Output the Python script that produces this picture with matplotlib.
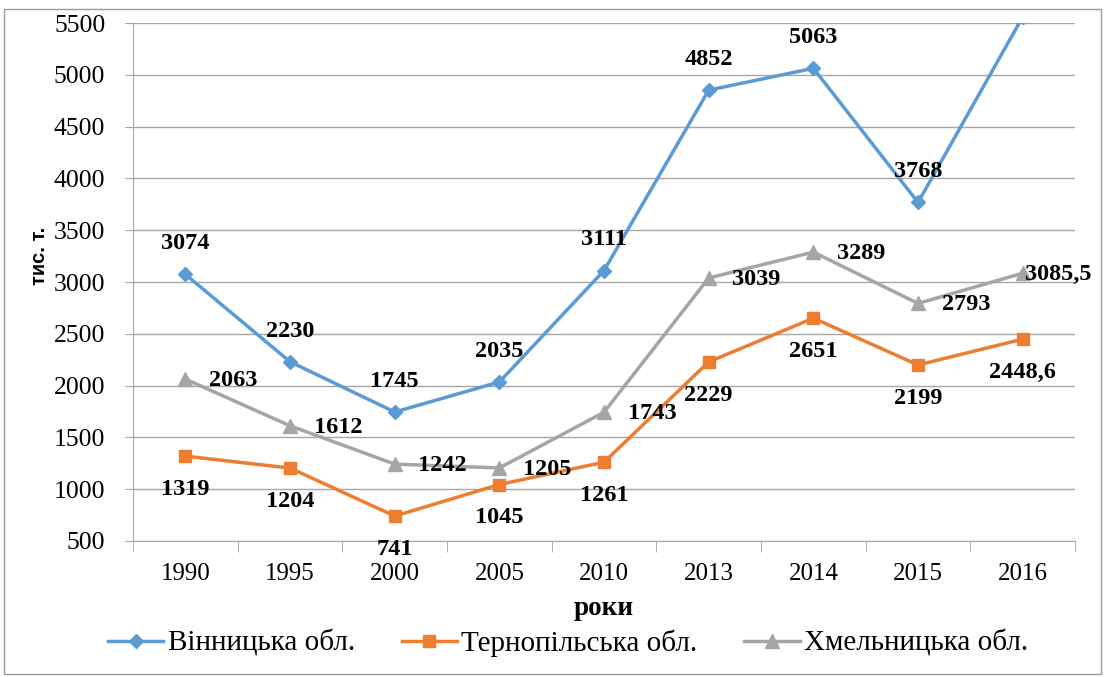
import matplotlib
matplotlib.use("Agg")
import matplotlib.pyplot as plt
from matplotlib.patches import Rectangle

years = ["1990", "1995", "2000", "2005", "2010", "2013", "2014", "2015", "2016"]
vinnytsia = [3074, 2230, 1745, 2035, 3111, 4852, 5063, 3768, 5560]
ternopil = [1319, 1204, 741, 1045, 1261, 2229, 2651, 2199, 2448.6]
khmelnytsky = [2063, 1612, 1242, 1205, 1743, 3039, 3289, 2793, 3085.5]
vin_labels = ["3074", "2230", "1745", "2035", "3111", "4852", "5063", "3768", None]
ter_labels = ["1319", "1204", "741", "1045", "1261", "2229", "2651", "2199", "2448,6"]
khm_labels = ["2063", "1612", "1242", "1205", "1743", "3039", "3289", "2793", "3085,5"]
series_names = ["Вінницька обл.", "Тернопільська обл.", "Хмельницька обл."]
yticks = [500, 1000, 1500, 2000, 2500, 3000, 3500, 4000, 4500, 5000, 5500]

plt.rcParams['font.family'] = ['Liberation Serif', 'DejaVu Serif']

fig = plt.figure(figsize=(11.05, 6.77), dpi=100)
ax = fig.add_axes([0.1204, 0.2009, 0.8525, 0.7651])

blue = "#5B9BD5"
orange = "#ED7D31"
grey = "#A5A5A5"
x = list(range(len(years)))

ax.plot(x, vinnytsia, color=blue, lw=2.5, marker="D", ms=7, label=series_names[0], zorder=3)
ax.plot(x, ternopil, color=orange, lw=2.5, marker="s", ms=9, label=series_names[1], zorder=3)
ax.plot(x, khmelnytsky, color=grey, lw=2.5, marker="^", ms=10, label=series_names[2], zorder=3)

fs = 17.5
last = len(years) - 1
for i, (v, lab) in enumerate(zip(vinnytsia, vin_labels)):
    if lab is None:
        continue
    ax.annotate(lab, (i, v), xytext=(0, 22), textcoords="offset points",
                ha="center", va="center", fontsize=fs, fontweight="bold")
for i, (v, lab) in enumerate(zip(ternopil, ter_labels)):
    ax.annotate(lab, (i, v), xytext=(0, -24), textcoords="offset points",
                ha="center", va="center", fontsize=fs, fontweight="bold")
for i, (v, lab) in enumerate(zip(khmelnytsky, khm_labels)):
    dx = 17 if i != last else 2
    ax.annotate(lab, (i, v), xytext=(dx, -1), textcoords="offset points",
                ha="left", va="center", fontsize=fs, fontweight="bold", zorder=4)

ax.set_xlim(-0.5, len(years) - 0.5)
ax.set_ylim(500, 5500)
ax.set_yticks(yticks)
ax.set_yticklabels([str(t) for t in yticks], fontsize=18.5)
ax.set_xticks(x)
ax.set_xticklabels(years, fontsize=18)
ax.tick_params(axis="x", length=0, pad=16)
ax.set_xticks([i - 0.5 for i in range(len(years) + 1)], minor=True)
ax.tick_params(axis="x", which="minor", length=8, color="#A6A6A6", direction="out")
ax.tick_params(axis="y", length=6, color="#A6A6A6", pad=14)
ax.grid(axis="y", color="#A6A6A6", lw=1)
ax.set_axisbelow(True)
for s in ["top", "right"]:
    ax.spines[s].set_visible(False)
for s in ["left", "bottom"]:
    ax.spines[s].set_color("#A6A6A6")
ax.set_ylabel("тис. т.", fontsize=14.5, fontweight="bold", family=['Liberation Sans', 'DejaVu Sans'])
ax.yaxis.set_label_coords(-0.089, 0.55)
ax.set_xlabel("роки", fontsize=19.5, fontweight="bold", labelpad=8)

fig.legend(loc="center", bbox_to_anchor=(0.514, 0.05), ncol=3, frameon=False,
           fontsize=21, handlelength=1.9, columnspacing=1.6, handletextpad=0.15)

fig.patches.append(Rectangle((0.004, 0.005), 0.992, 0.982, transform=fig.transFigure,
                             fill=False, edgecolor="#9a9a9a", lw=1))

fig.savefig("out.png", dpi=100)
